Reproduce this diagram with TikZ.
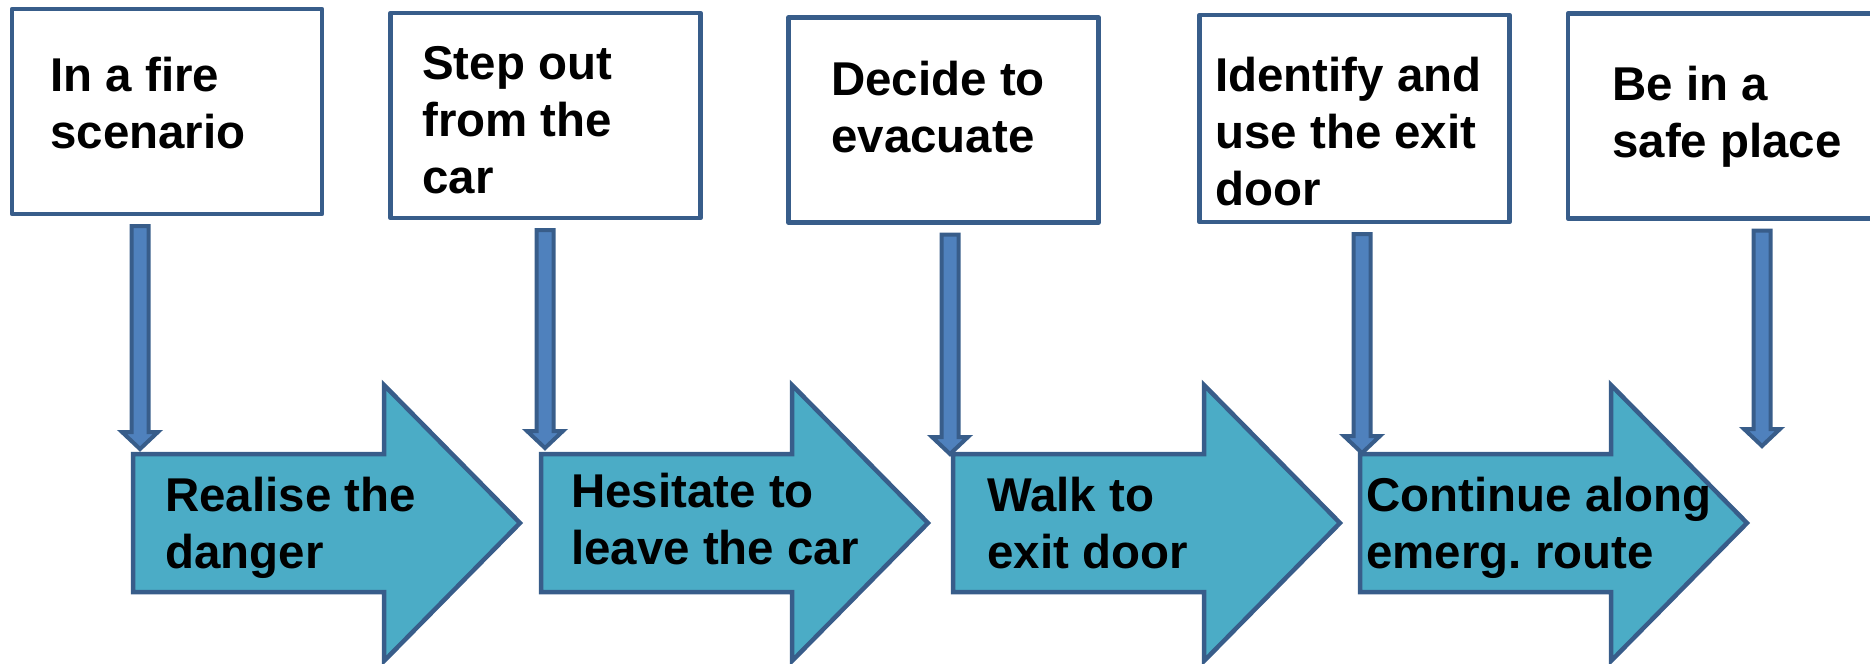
\documentclass[tikz,border=0pt]{standalone}
\usepackage{fontspec}
\setmainfont{Liberation Sans}
\usetikzlibrary{calc}

\definecolor{edgeblue}{HTML}{385D8A}
\definecolor{stepaqua}{HTML}{4BACC6}
\definecolor{dropblue}{HTML}{4F81BD}

\tikzset{
  infobox/.style={draw=edgeblue, line width=0.09cm, line join=round, fill=white,
    minimum width=6.2cm, minimum height=4.1cm, inner sep=0pt},
  chevron/.style={draw=edgeblue, line width=0.09cm, fill=stepaqua},
  droparrow/.style={draw=edgeblue, line width=0.08cm, fill=dropblue},
  steptext/.style={font=\fontsize{27}{32.3}\selectfont\bfseries, align=left,
    inner sep=0pt, anchor=base west},
}

\begin{document}
\begin{tikzpicture}[x=0.02cm, y=-0.02cm]
  % one unit = one pixel of the slide, origin top left, y grows downwards
  \useasboundingbox (0,0) rectangle (1870,663);

  % upper row: what should happen (text placed by its last baseline)
  \node[infobox] (box1) at (167,111.5) {};
  \node[infobox] (box2) at (545.5,115.5) {};
  \node[infobox] (box3) at (943.5,120) {};
  \node[infobox, minimum height=4.14cm] (box4) at (1354.5,118.5) {};
  \node[infobox] (box5) at (1723,116) {};
  \node[steptext] (goal1) at (50,148) {In a fire\\scenario};
  \node[steptext] (goal2) at (422,193) {Step out\\from the\\car};
  \node[steptext] (goal3) at (831,152) {Decide to\\evacuate};
  \node[steptext] (goal4) at (1215,205) {Identify and\\use the exit\\door};
  \node[steptext] (goal5) at (1612,157) {Be in a\\safe place};

  % lower row: what the passenger does
  \foreach \i/\x in {1/133, 2/541, 3/953, 4/1360}
    { \coordinate (act\i) at (\x,523);
      \draw[chevron] (\x,454) -- ++(251,0) -- ++(0,-69) -- ++(136,138)
        -- ++(-136,138) -- ++(0,-69) -- ++(-251,0) -- cycle; }
  \node[steptext] (did1) at (165,568) {Realise the\\danger};
  \node[steptext] (did2) at (571,564) {Hesitate to\\leave the car};
  \node[steptext] (did3) at (987,568) {Walk to\\exit door};
  \node[steptext] (did4) at (1366,568) {Continue along\\emerg.\ route};

  % thin block arrows from each box down to the row of steps
  \foreach \i/\x/\y in {1/140/449, 2/545/448, 3/950/454, 4/1362/453, 5/1762/446}
    { \coordinate (tip\i) at (\x,\y);
      \coordinate (top\i) at ($(tip\i |- box\i.south)+(0,10)$);
      \draw[droparrow] ($(top\i)+(-8.5,0)$) -- ($(tip\i)+(-8.5,-17)$)
        -- ($(tip\i)+(-18,-17)$) -- (tip\i) -- ($(tip\i)+(18,-17)$)
        -- ($(tip\i)+(8.5,-17)$) -- ($(top\i)+(8.5,0)$) -- cycle; }
\end{tikzpicture}
\end{document}
